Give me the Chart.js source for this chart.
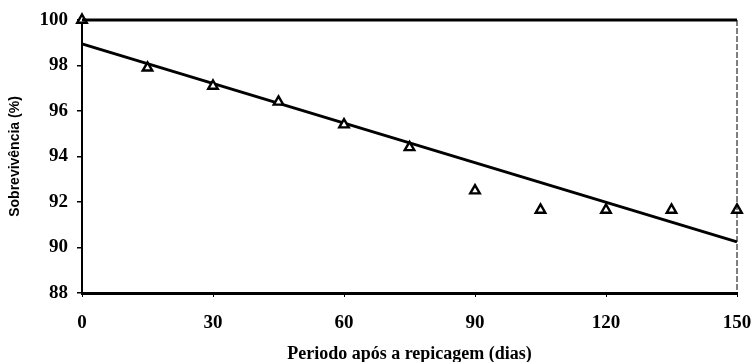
<!DOCTYPE html>
<html>
<head>
<meta charset="utf-8">
<script src="https://cdn.jsdelivr.net/npm/chart.js@4/dist/chart.umd.min.js"></script>
<style>
  html, body { margin: 0; padding: 0; background: #fff; }
  #wrap { width: 754px; height: 362px; position: relative; }
</style>
</head>
<body>
<div id="wrap"><canvas id="c" width="754" height="362"></canvas></div>
<script>
// Survival (%) of plantlets by days after transplanting
const dias = [0, 15, 30, 45, 60, 75, 90, 105, 120, 135, 150];
const sobrevivencia = [100, 97.9, 97.1, 96.4, 95.4, 94.4, 92.5, 91.65, 91.65, 91.65, 91.65];

// Fitted trend line, read at its two ends
const tendenciaX = [0, 150];
const tendenciaY = [98.95, 90.25];

const xTicks = [0, 30, 60, 90, 120, 150];
const yTicks = [88, 90, 92, 94, 96, 98, 100];

const serif = "'Liberation Serif', 'Times New Roman', serif";
const sans = "'Liberation Sans', Arial, sans-serif";

// Top (thick) and right (thin, broken) frame lines of the plot box
const framePlugin = {
  id: 'frame',
  afterDatasetsDraw(chart) {
    const { ctx, chartArea: a } = chart;
    ctx.save();
    ctx.strokeStyle = '#000';
    ctx.lineWidth = 3;
    ctx.beginPath();
    ctx.moveTo(a.left, a.top);
    ctx.lineTo(a.right, a.top);
    ctx.stroke();
    ctx.lineWidth = 1;
    ctx.setLineDash([6, 2]);
    ctx.beginPath();
    ctx.moveTo(a.right, a.top);
    ctx.lineTo(a.right, a.bottom);
    ctx.stroke();
    ctx.restore();
  }
};

new Chart(document.getElementById('c'), {
  type: 'scatter',
  data: {
    datasets: [
      {
        type: 'line',
        data: tendenciaX.map((x, i) => ({ x, y: tendenciaY[i] })),
        borderColor: '#000',
        borderWidth: 3,
        pointRadius: 0,
        fill: false,
        clip: false,
        order: 2
      },
      {
        data: dias.map((x, i) => ({ x, y: sobrevivencia[i] })),
        pointStyle: 'triangle',
        pointRadius: 5.5,
        pointBorderWidth: 2.4,
        pointBackgroundColor: '#fff',
        pointBorderColor: '#000',
        clip: false,
        order: 1
      }
    ]
  },
  plugins: [framePlugin],
  options: {
    responsive: false,
    animation: false,
    layout: { padding: { top: 20, right: 17, left: 0, bottom: 0 } },
    plugins: { legend: { display: false }, tooltip: { enabled: false } },
    scales: {
      x: {
        type: 'linear',
        min: 0,
        max: 150,
        afterBuildTicks(s) { s.ticks = xTicks.map(v => ({ value: v })); },
        afterFit(s) { s.height = 69; s.paddingLeft = 0; s.paddingRight = 0; },
        border: { display: true, color: '#000', width: 3 },
        grid: { display: true, drawOnChartArea: false, drawTicks: true, tickLength: 4, color: '#000', lineWidth: 1 },
        ticks: {
          color: '#000',
          padding: 15,
          maxRotation: 0,
          font: { family: serif, size: 19, weight: 'bold' }
        },
        title: {
          display: true,
          text: 'Periodo após a repicagem (dias)',
          color: '#000',
          padding: { top: 0, bottom: -3 },
          font: { family: serif, size: 18, weight: 'bold' }
        }
      },
      y: {
        type: 'linear',
        min: 88,
        max: 100,
        afterBuildTicks(s) { s.ticks = yTicks.map(v => ({ value: v })); },
        afterFit(s) { s.width = 82; s.paddingTop = 0; s.paddingBottom = 0; },
        border: { display: true, color: '#000', width: 2 },
        grid: { display: true, drawOnChartArea: false, drawTicks: true, tickLength: 5, color: '#000', lineWidth: 1.5 },
        ticks: {
          color: '#000',
          padding: 9,
          font: { family: serif, size: 19, weight: 'bold' }
        },
        title: {
          display: true,
          text: 'Sobrevivência (%)',
          color: '#000',
          padding: { top: 7, bottom: 0 },
          font: { family: sans, size: 14, weight: 'bold' }
        }
      }
    }
  }
});
</script>
</body>
</html>
